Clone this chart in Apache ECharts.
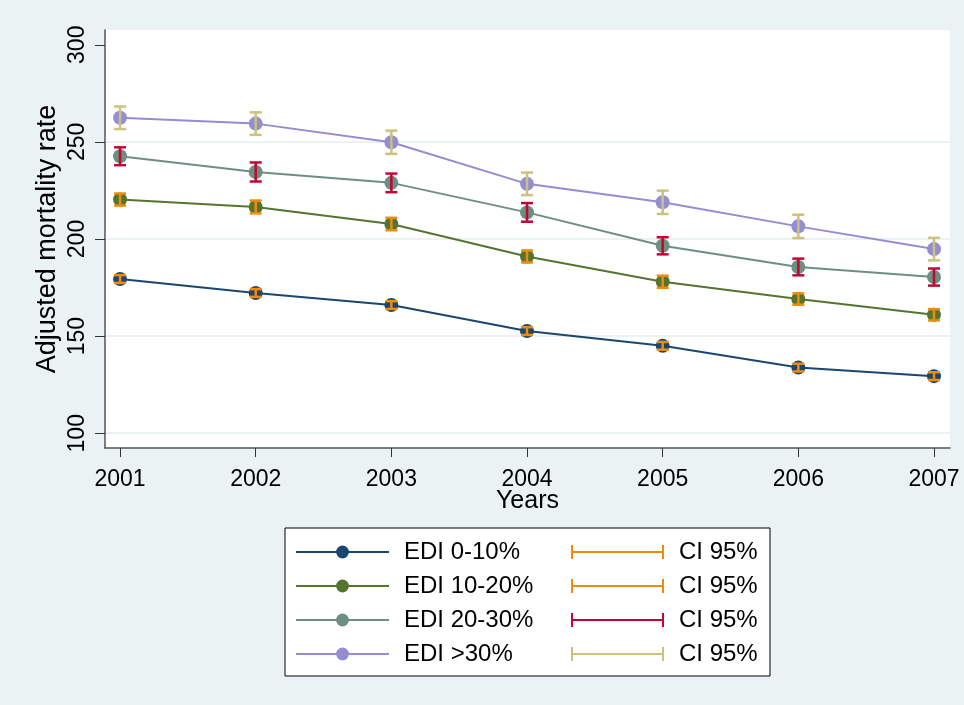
<!DOCTYPE html>
<html>
<head>
<meta charset="utf-8">
<script src="https://cdn.jsdelivr.net/npm/echarts@6/dist/echarts.min.js"></script>
<style>
  html, body { margin: 0; padding: 0; background: #eaf2f3; }
  #chart { width: 964px; height: 705px; }
</style>
</head>
<body>
<div id="chart"></div>
<script>
// Years on the horizontal axis
const years = [2001, 2002, 2003, 2004, 2005, 2006, 2007];
const yTicks = [100, 150, 200, 250, 300];

// Adjusted mortality rate per EDI group, with 95% confidence bounds
const edi0Mean  = [179.4, 172.2, 166.0, 152.6, 145.0, 133.8, 129.4];
const edi0Low   = [177.4, 170.2, 164.0, 150.6, 143.0, 131.8, 127.4];
const edi0High  = [181.4, 174.2, 168.0, 154.6, 147.0, 135.8, 131.4];

const edi10Mean = [220.3, 216.5, 207.7, 191.0, 178.0, 169.1, 161.0];
const edi10Low  = [217.2, 213.2, 204.5, 187.9, 174.9, 166.2, 158.1];
const edi10High = [223.4, 219.8, 210.9, 194.1, 181.1, 172.0, 163.9];

const edi20Mean = [242.6, 234.5, 228.9, 213.7, 196.5, 185.6, 180.4];
const edi20Low  = [238.0, 229.6, 224.1, 208.9, 192.1, 181.3, 176.0];
const edi20High = [247.2, 239.4, 233.7, 218.5, 200.9, 189.9, 184.8];

const edi30Mean = [262.4, 259.4, 249.8, 228.4, 218.9, 206.5, 194.8];
const edi30Low  = [256.6, 253.6, 243.8, 222.6, 212.9, 200.5, 189.0];
const edi30High = [268.2, 265.2, 255.8, 234.2, 224.9, 212.5, 200.6];

const groupNames = ['EDI 0-10%', 'EDI 10-20%', 'EDI 20-30%', 'EDI >30%'];
const ciLabel = 'CI 95%';

const FONT = "'Liberation Sans', Arial, Helvetica, sans-serif";
const lineColors = ['#1a476f', '#55752f', '#6e8e84', '#938dd2'];
const ciColors = ['#f58a07', '#f08c0c', '#c10534', '#cac27e'];

const groups = [
  { mean: edi0Mean,  low: edi0Low,  high: edi0High },
  { mean: edi10Mean, low: edi10Low, high: edi10High },
  { mean: edi20Mean, low: edi20Low, high: edi20High },
  { mean: edi30Mean, low: edi30Low, high: edi30High }
];

function ciName(i) { return ciLabel + ' #' + (i + 1); }

// Range bar with end caps
function renderCap(params, api) {
  const x = api.value(0);
  const lo = api.coord([x, api.value(1)]);
  const hi = api.coord([x, api.value(2)]);
  const color = api.visual('color');
  const half = 6;
  const st = { stroke: color, lineWidth: 2.5 };
  return {
    type: 'group',
    children: [
      { type: 'line', shape: { x1: lo[0], y1: lo[1], x2: hi[0], y2: hi[1] }, style: st },
      { type: 'line', shape: { x1: lo[0] - half, y1: lo[1], x2: lo[0] + half, y2: lo[1] }, style: st },
      { type: 'line', shape: { x1: hi[0] - half, y1: hi[1], x2: hi[0] + half, y2: hi[1] }, style: st }
    ]
  };
}

const series = [];
groups.forEach((g, i) => {
  series.push({
    name: groupNames[i],
    type: 'line',
    data: years.map((y, k) => [y, g.mean[k]]),
    symbol: 'circle',
    symbolSize: 14,
    showSymbol: true,
    color: lineColors[i],
    lineStyle: { width: 2, color: lineColors[i] },
    itemStyle: { color: lineColors[i] },
    z: 2 + i
  });
});
groups.forEach((g, i) => {
  series.push({
    name: ciName(i),
    type: 'custom',
    renderItem: renderCap,
    data: years.map((y, k) => [y, g.low[k], g.high[k]]),
    encode: { x: 0, y: [1, 2] },
    color: ciColors[i],
    itemStyle: { color: ciColors[i] },
    z: 10 + i
  });
});

const capIcon = 'path://M0,0h2v14h-2z M0,6h93v2h-93z M91,0h2v14h-2z';
const legendData = [];
groupNames.forEach((n, i) => {
  legendData.push({ name: n });
  legendData.push({ name: ciName(i), icon: capIcon });
});

const chart = echarts.init(document.getElementById('chart'), null, { renderer: 'canvas' });
chart.setOption({
  animation: false,
  backgroundColor: '#eaf2f3',
  textStyle: { fontFamily: FONT },
  grid: {
    left: 105, right: 14, top: 30, bottom: 257,
    show: true, backgroundColor: '#ffffff', borderWidth: 0
  },
  xAxis: {
    type: 'value',
    min: 2000.889,
    max: 2007.118,
    name: 'Years',
    nameLocation: 'middle',
    nameGap: 41,
    nameMoveOverlap: false,
    nameTextStyle: { fontSize: 25, color: '#000', fontFamily: FONT },
    axisLine: { show: true, onZero: false, lineStyle: { color: '#555', width: 1.5 } },
    axisTick: { show: true, inside: false, length: 9, customValues: years, lineStyle: { color: '#333', width: 1 } },
    axisLabel: { customValues: years, margin: 20, fontSize: 23, color: '#000', fontFamily: FONT,
                 formatter: v => String(v) },
    splitLine: { show: false }
  },
  yAxis: {
    type: 'value',
    min: 92.4,
    max: 307.6,
    name: 'Adjusted mortality rate',
    nameLocation: 'middle',
    nameGap: 44,
    nameMoveOverlap: false,
    nameTextStyle: { fontSize: 27, color: '#000', fontFamily: FONT },
    axisLine: { show: true, onZero: false, lineStyle: { color: '#555', width: 1.5 } },
    axisTick: { show: true, inside: false, length: 10, customValues: yTicks, lineStyle: { color: '#333', width: 1 } },
    axisLabel: { customValues: yTicks, rotate: 90, margin: 16, fontSize: 23, color: '#000', fontFamily: FONT },
    splitLine: {
      show: true,
      lineStyle: { color: ['#eaf2f3', '#eaf2f3', '#eaf2f3', '#eaf2f3', 'rgba(0,0,0,0)'], width: 2 }
    }
  },
  legend: {
    data: legendData,
    orient: 'horizontal',
    left: 285,
    top: 528,
    width: 470,
    padding: [12, 11, 10, 10],
    itemGap: 10,
    itemWidth: 93,
    itemHeight: 16,
    backgroundColor: '#ffffff',
    borderColor: '#000',
    borderWidth: 1,
    borderRadius: 0,
    selectedMode: false,
    formatter: function (name) {
      if (name.indexOf(ciLabel) === 0) return '{b|' + ciLabel + '}';
      return '{a|' + name + '}';
    },
    textStyle: {
      fontFamily: FONT,
      fontSize: 24,
      color: '#000',
      lineHeight: 24,
      rich: {
        a: { width: 157, padding: [0, 0, 0, 10], fontSize: 24, fontFamily: FONT, color: '#000', lineHeight: 24 },
        b: { width: 80, padding: [0, 0, 0, 10], fontSize: 24, fontFamily: FONT, color: '#000', lineHeight: 24 }
      }
    }
  },
  series: series
});
</script>
</body>
</html>
